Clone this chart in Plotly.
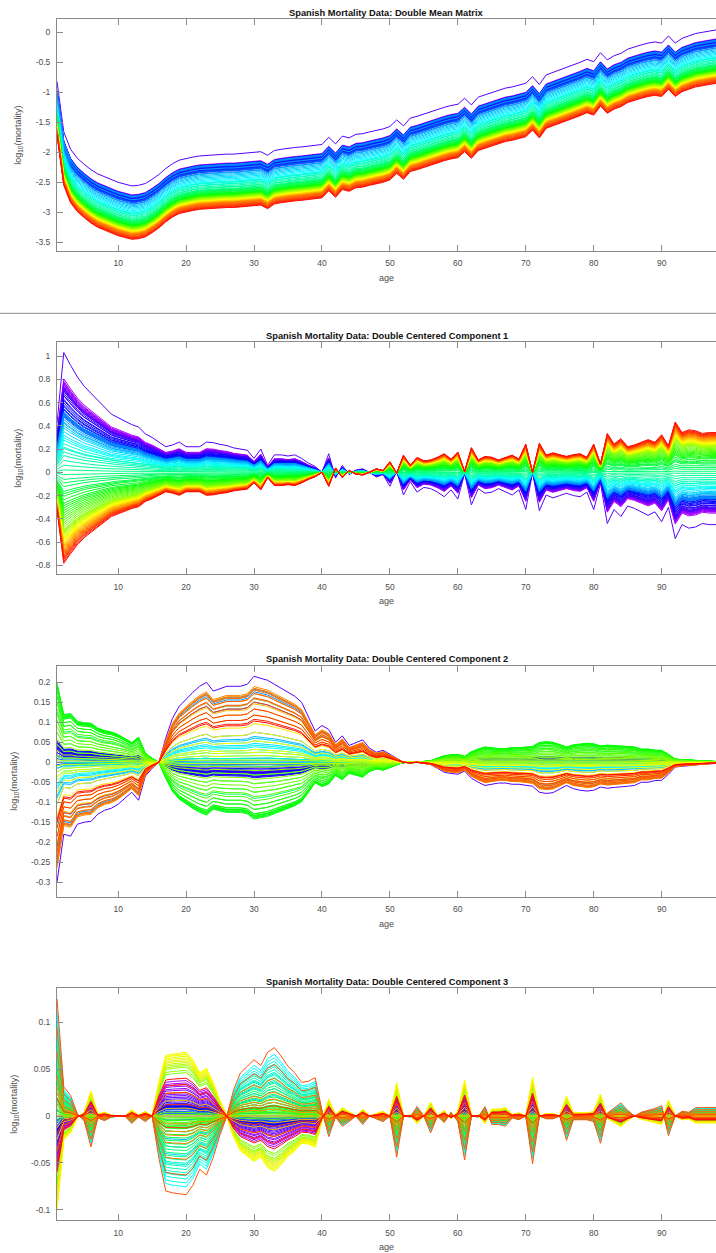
import plotly.graph_objects as go

# ---------------- data ----------------
ages = list(range(1, 99))          # 98 ages
years = list(range(1908, 2003))    # 95 yearly curves

# Panel 1: double mean matrix = common age profile (1918 curve) + yearly shift
mean_base = [
    -0.82, -1.66, -1.95, -2.10, -2.20, -2.29, -2.36, -2.41, -2.45, -2.50,
    -2.53, -2.56, -2.55, -2.52, -2.45, -2.37, -2.27, -2.19, -2.13, -2.10,
    -2.08, -2.06, -2.05, -2.04, -2.04, -2.03, -2.03, -2.02, -2.01, -2.00,
    -1.99, -2.05, -1.97, -1.95, -1.93, -1.92, -1.91, -1.90, -1.88, -1.87,
    -1.75, -1.86, -1.73, -1.76, -1.70, -1.69, -1.66, -1.64, -1.61, -1.57,
    -1.46, -1.56, -1.43, -1.40, -1.36, -1.32, -1.29, -1.25, -1.22, -1.20,
    -1.10, -1.21, -1.08, -1.04, -1.00, -0.96, -0.93, -0.91, -0.88, -0.85,
    -0.74, -0.87, -0.71, -0.67, -0.63, -0.59, -0.55, -0.50, -0.45, -0.49,
    -0.34, -0.46, -0.39, -0.35, -0.28, -0.24, -0.21, -0.18, -0.16, -0.18,
    -0.06, -0.18, -0.10, -0.06, -0.02, 0.00, 0.02, 0.04,
]
mean_offset = [
    -0.15, -0.18, -0.21, -0.17, -0.23, -0.20, -0.25, -0.19, -0.22, -0.24,
    0.00,
    -0.17, -0.21, -0.19, -0.24, -0.22, -0.26, -0.23, -0.27,
    -0.16, -0.18, -0.20, -0.22, -0.24, -0.26, -0.27, -0.28, -0.30,
    -0.19, -0.17, -0.18, -0.23,
    -0.31, -0.33, -0.35, -0.37, -0.39, -0.41,
    -0.43, -0.45, -0.46, -0.47, -0.49, -0.50, -0.52, -0.54, -0.55, -0.57,
    -0.58, -0.59, -0.60, -0.61, -0.62, -0.63, -0.64, -0.65, -0.66,
    -0.665, -0.67, -0.675, -0.68, -0.685, -0.69, -0.695, -0.70, -0.705, -0.71,
    -0.715, -0.72, -0.725, -0.73, -0.735, -0.74, -0.745, -0.75, -0.755,
    -0.76, -0.765, -0.77, -0.775, -0.78, -0.785, -0.79, -0.795, -0.80, -0.805,
    -0.81, -0.82, -0.83, -0.84, -0.85, -0.86, -0.87, -0.88, -0.89,
]

# Panel 2: component 1 = age loading (1918 curve) x yearly score
pc1_load = [
    0.42, 1.03, 0.92, 0.82, 0.74, 0.68, 0.62, 0.56, 0.50, 0.47,
    0.44, 0.41, 0.39, 0.33, 0.30, 0.26, 0.22, 0.235, 0.26, 0.22,
    0.22, 0.22, 0.26, 0.255, 0.24, 0.23, 0.21, 0.20, 0.19, 0.12,
    0.20, 0.06, 0.15, 0.15, 0.14, 0.15, 0.12, 0.08, 0.05, 0.00,
    0.16, -0.05, 0.06, -0.02, 0.02, 0.03, 0.00, -0.04, -0.02, -0.12,
    0.01, -0.195, -0.08, -0.17, -0.13, -0.14, -0.17, -0.21, -0.15, -0.23,
    -0.01, -0.28, -0.14, -0.18, -0.17, -0.14, -0.17, -0.195, -0.15, -0.32,
    0.00, -0.33, -0.195, -0.22, -0.20, -0.18, -0.20, -0.21, -0.17, -0.32,
    -0.095, -0.44, -0.32, -0.38, -0.29, -0.31, -0.34, -0.37, -0.34, -0.425,
    -0.30, -0.57, -0.45, -0.48, -0.47, -0.44, -0.45, -0.45,
]
pc1_score = [
    0.76, 0.78, 0.74, 0.75, 0.72, 0.73, 0.71, 0.70, 0.69, 0.68,
    1.00,
    0.70, 0.68, 0.66, 0.64, 0.64, 0.61, 0.60, 0.58,
    0.56, 0.55, 0.53, 0.52, 0.50, 0.49, 0.48, 0.47, 0.46, 0.48,
    0.50, 0.48, 0.44, 0.42, 0.41, 0.39, 0.37, 0.34, 0.31,
    0.29, 0.27, 0.24, 0.21, 0.20, 0.17, 0.14, 0.10, 0.06, 0.02,
    -0.02, -0.06, -0.09, -0.12, -0.16, -0.18, -0.20, -0.23, -0.26,
    -0.28, -0.30, -0.32, -0.34, -0.36, -0.38, -0.40, -0.42, -0.44, -0.46,
    -0.48, -0.49, -0.50, -0.51, -0.52, -0.53, -0.54, -0.55, -0.56,
    -0.57, -0.58, -0.59, -0.60, -0.61, -0.62, -0.63, -0.64, -0.65, -0.66,
    -0.67, -0.68, -0.69, -0.70, -0.71, -0.72, -0.73, -0.745, -0.76,
]

# Panel 3: component 2 = age loading (1918 curve) x yearly score
pc2_load = [
    -0.30, -0.18, -0.185, -0.155, -0.15, -0.148, -0.13, -0.12, -0.115, -0.105,
    -0.09, -0.075, -0.095, -0.035, -0.015, 0.00, 0.06, 0.11, 0.14, 0.158,
    0.175, 0.19, 0.20, 0.178, 0.185, 0.19, 0.19, 0.19, 0.195, 0.215,
    0.21, 0.205, 0.195, 0.185, 0.175, 0.165, 0.15, 0.115, 0.078, 0.092,
    0.082, 0.05, 0.066, 0.042, 0.05, 0.056, 0.035, 0.025, 0.03, 0.02,
    0.012, 0.00, -0.002, 0.00, -0.003, -0.006, -0.015, -0.025, -0.028, -0.03,
    -0.022, -0.04, -0.05, -0.058, -0.055, -0.052, -0.052, -0.055, -0.055, -0.058,
    -0.06, -0.075, -0.078, -0.076, -0.068, -0.058, -0.066, -0.07, -0.072, -0.07,
    -0.062, -0.065, -0.063, -0.062, -0.06, -0.058, -0.05, -0.05, -0.046, -0.045,
    -0.03, -0.012, -0.01, -0.008, -0.006, -0.005, -0.004, -0.003,
]
pc2_score = [
    -0.06, -0.10, -0.08, -0.12, -0.10, -0.14, -0.12, -0.15, -0.13, -0.11,
    1.00,
    -0.10, -0.14, -0.16, -0.13, -0.17, -0.15, -0.18, -0.16,
    -0.12, -0.10, -0.08, -0.06, -0.05, -0.03, 0.00, 0.02, 0.05,
    0.70, 0.85, 0.82, 0.74,
    0.35, 0.30, 0.28, 0.25, 0.22, 0.20,
    0.18, 0.15, 0.12, 0.08, 0.05, 0.03, 0.00, -0.05,
    -0.15, -0.25, -0.35, -0.42, -0.50, -0.55, -0.60, -0.62, -0.63, -0.65, -0.66,
    -0.64, -0.62, -0.60, -0.55, -0.50, -0.45, -0.40, -0.35, -0.30, -0.25,
    -0.20, -0.15, -0.10, -0.06, -0.02, 0.03, 0.08, 0.12, 0.15,
    0.25, 0.35, 0.45, 0.55, 0.62, 0.68, 0.74, 0.80, 0.86, 0.88,
    0.86, 0.84, 0.80, 0.75, 0.70, 0.62, 0.55, 0.50, 0.48,
]

# Panel 4: component 3 = age loading (extreme orange curve) x yearly score
pc3_load = [
    0.125, 0.031, 0.022, 0.002, -0.005, -0.033, -0.002, -0.005, -0.001, 0.0,
    0.0, -0.008, -0.001, -0.006, 0.0, -0.045, -0.08, -0.082, -0.083, -0.084,
    -0.074, -0.057, -0.063, -0.044, -0.02, 0.0, 0.028, 0.046, 0.053, 0.06,
    0.054, 0.068, 0.073, 0.064, 0.053, 0.046, 0.036, 0.037, 0.041, 0.006,
    -0.022, -0.001, -0.011, -0.006, 0.0, -0.009, 0.0, -0.003, -0.006, 0.0,
    -0.044, 0.0, -0.001, 0.01, 0.0, -0.018, 0.0, -0.007, 0.004, -0.006,
    -0.047, 0.0, -0.001, 0.01, -0.009, -0.009, -0.011, -0.002, -0.004, 0.0,
    -0.051, 0.0, -0.003, -0.003, 0.0, -0.026, -0.004, -0.004, -0.004, -0.006,
    -0.029, 0.003, 0.009, 0.014, 0.006, 0.0, 0.004, 0.006, 0.008, 0.011,
    -0.021, 0.0, 0.005, 0.004, 0.009, 0.009, 0.009, 0.009,
]
pc3_score = [
    -0.42, -0.45, -0.40, -0.38, -0.35, -0.33, -0.30, -0.28, -0.26, -0.24,
    -0.20,
    -0.22, -0.20, -0.18, -0.16, -0.15, -0.14, -0.13, -0.12,
    -0.12, -0.11, -0.10, -0.09, -0.08, -0.06, -0.05, -0.04, -0.03,
    0.00, 0.05, 0.10, 0.15, 0.20, 0.30, 0.40, 0.50, 0.62, 0.75,
    0.90, 0.85, 0.80, 0.76, 0.72, 0.68, 0.64, 0.60, 0.56,
    0.52, 0.48, 0.44, 0.40, 0.36, 0.32, 0.28, 0.24, 0.20, 0.16,
    0.14, 0.12, 0.10, 0.08, 0.06, 0.04, 0.02, -0.02, -0.05,
    -0.55, -0.58, -0.62, -0.64, -0.66, -0.68,
    -0.72, -0.76, -0.79, -0.81, -0.78, -0.74, -0.70,
    -0.30, -0.20, -0.10, 0.00, 0.10, 0.20, 0.25, 0.35, 0.55, 0.75,
    1.00,
    0.15, -0.15, -0.30, -0.40, -0.48,
]

titles = [
    "Spanish Mortality Data: Double Mean Matrix",
    "Spanish Mortality Data: Double Centered Component 1",
    "Spanish Mortality Data: Double Centered Component 2",
    "Spanish Mortality Data: Double Centered Component 3",
]
x_ticks = [10, 20, 30, 40, 50, 60, 70, 80, 90]
y_ticks = [
    [0, -0.5, -1, -1.5, -2, -2.5, -3, -3.5],
    [1, 0.8, 0.6, 0.4, 0.2, 0, -0.2, -0.4, -0.6, -0.8],
    [0.2, 0.15, 0.1, 0.05, 0, -0.05, -0.1, -0.15, -0.2, -0.25, -0.3],
    [0.1, 0.05, 0, -0.05, -0.1],
]
y_tick_text = [
    ["0", "-0.5", "-1", "-1.5", "-2", "-2.5", "-3", "-3.5"],
    ["1", "0.8", "0.6", "0.4", "0.2", "0", "-0.2", "-0.4", "-0.6", "-0.8"],
    ["0.2", "0.15", "0.1", "0.05", "0", "-0.05", "-0.1", "-0.15", "-0.2", "-0.25", "-0.3"],
    ["0.1", "0.05", "0", "-0.05", "-0.1"],
]

assert len(mean_base) == 98 and len(pc1_load) == 98 and len(pc2_load) == 98 and len(pc3_load) == 98
assert len(mean_offset) == 95 and len(pc1_score) == 95 and len(pc2_score) == 95 and len(pc3_score) == 95

# ---------------- styling ----------------
W, H = 716, 1253
FONT = "Liberation Sans, Arial, Helvetica, sans-serif"
AXIS_COL = "#8a8a8a"
TICK_COL = "#4d4d4d"

geom = [
    dict(top=19.3, bottom=251.0, yr=[-3.645, 0.217], ylab_x=18.5),
    dict(top=342.3, bottom=574.3, yr=[-0.877, 1.118], ylab_x=18.5),
    dict(top=665.7, bottom=897.0, yr=[-0.337, 0.2415], ylab_x=14.5),
    dict(top=988.3, bottom=1220.3, yr=[-0.1113, 0.1363], ylab_x=14.5),
]
X_LEFT = 57.0


def rainbow(i, n=95):
    nf = -(-(n - 1) // 5)
    seg, k = divmod(i, nf)
    f = k / nf
    if seg == 0:
        r, g, b = 0.7 * (1 - f), 0, 1
    elif seg == 1:
        r, g, b = 0, f, 1
    elif seg == 2:
        r, g, b = 0, 1, 1 - f
    elif seg == 3:
        r, g, b = f, 1, 0
    else:
        r, g, b = 1, 1 - f, 0
    return "rgb(%d,%d,%d)" % (round(r * 255), round(g * 255), round(b * 255))


fig = go.Figure()

curves = [
    [[b + mean_offset[i] for b in mean_base] for i in range(len(years))],
    [[pc1_score[i] * v for v in pc1_load] for i in range(len(years))],
    [[pc2_score[i] * v for v in pc2_load] for i in range(len(years))],
    [[pc3_score[i] * v for v in pc3_load] for i in range(len(years))],
]

for p in range(4):
    sfx = "" if p == 0 else str(p + 1)
    for i, yr in enumerate(years):
        fig.add_trace(go.Scatter(
            x=ages, y=curves[p][i], mode="lines",
            line=dict(color=rainbow(i), width=1),
            xaxis="x" + sfx, yaxis="y" + sfx,
            name=str(yr), showlegend=False, hoverinfo="skip",
        ))

layout = dict(
    width=W, height=H,
    margin=dict(l=0, r=0, t=0, b=0),
    paper_bgcolor="white", plot_bgcolor="white",
    font=dict(family=FONT, size=9, color=TICK_COL),
    showlegend=False,
    annotations=[], shapes=[],
)

for p, g in enumerate(geom):
    sfx = "" if p == 0 else str(p + 1)
    ydom = [1 - g["bottom"] / H, 1 - g["top"] / H]
    layout["xaxis" + sfx] = dict(
        domain=[X_LEFT / W, 1.0], range=[1, 98], anchor="y" + sfx,
        tickvals=x_ticks, ticks="inside", ticklen=6, tickwidth=1, tickcolor=AXIS_COL,
        showline=True, linecolor=AXIS_COL, linewidth=1, mirror="ticks",
        showgrid=False, zeroline=False,
        tickfont=dict(family=FONT, size=8.5, color=TICK_COL),
        ticklabelstandoff=4,
    )
    layout["yaxis" + sfx] = dict(
        domain=ydom, range=g["yr"], anchor="x" + sfx,
        tickvals=y_ticks[p], ticktext=y_tick_text[p],
        ticks="inside", ticklen=6, tickwidth=1, tickcolor=AXIS_COL,
        showline=True, linecolor=AXIS_COL, linewidth=1,
        showgrid=False, zeroline=False,
        tickfont=dict(family=FONT, size=8.5, color=TICK_COL),
        ticklabelstandoff=4,
    )
    cx = (X_LEFT + W) / 2 / W
    layout["annotations"].append(dict(
        text="<b>" + titles[p] + "</b>", xref="paper", yref="paper",
        x=cx, y=1 - (g["top"] - 6.3) / H, xanchor="center", yanchor="middle",
        showarrow=False, font=dict(family=FONT, size=9.3, color="#111111"),
    ))
    layout["annotations"].append(dict(
        text="age", xref="paper", yref="paper",
        x=cx, y=1 - (g["bottom"] + 26.7) / H, xanchor="center", yanchor="middle",
        showarrow=False, font=dict(family=FONT, size=9, color=TICK_COL),
    ))
    layout["annotations"].append(dict(
        text="log<sub>10</sub>(mortality)", xref="paper", yref="paper",
        x=g["ylab_x"] / W, y=1 - (g["top"] + g["bottom"]) / 2 / H,
        xanchor="center", yanchor="middle", textangle=-90,
        showarrow=False, font=dict(family=FONT, size=9, color=TICK_COL),
    ))

layout["shapes"].append(dict(
    type="line", xref="paper", yref="paper", x0=0, x1=1,
    y0=1 - 313.3 / H, y1=1 - 313.3 / H,
    line=dict(color=AXIS_COL, width=1),
))

fig.update_layout(**layout)
fig.write_html(
    "out.html",
    config={"displayModeBar": False},
    post_script="document.body.style.margin='0';document.body.style.overflow='hidden';",
)
